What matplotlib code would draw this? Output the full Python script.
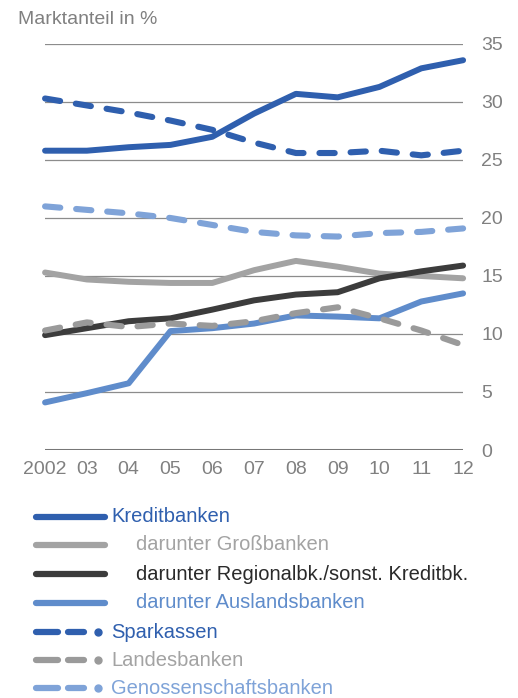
import matplotlib.pyplot as plt

plt.rcParams['font.family'] = ['Liberation Sans', 'DejaVu Sans']

# Daten
years = [2002, 2003, 2004, 2005, 2006, 2007, 2008, 2009, 2010, 2011, 2012]
year_labels = ['2002', '03', '04', '05', '06', '07', '08', '09', '10', '11', '12']
kreditbanken = [25.8, 25.8, 26.1, 26.3, 27.0, 29.0, 30.7, 30.4, 31.3, 32.9, 33.6]
grossbanken = [15.3, 14.7, 14.5, 14.4, 14.4, 15.5, 16.3, 15.8, 15.2, 15.0, 14.8]
regionalbanken = [9.9, 10.5, 11.1, 11.35, 12.1, 12.9, 13.4, 13.6, 14.8, 15.4, 15.9]
auslandsbanken = [4.1, 4.9, 5.75, 10.25, 10.5, 10.9, 11.6, 11.5, 11.35, 12.8, 13.5]
sparkassen = [30.3, 29.7, 29.1, 28.4, 27.6, 26.5, 25.6, 25.6, 25.8, 25.4, 25.8]
landesbanken = [10.3, 11.0, 10.6, 10.9, 10.7, 11.1, 11.8, 12.3, 11.35, 10.3, 9.05]
genossenschaft = [21.0, 20.7, 20.4, 20.0, 19.4, 18.8, 18.5, 18.4, 18.7, 18.8, 19.1]
y_ticks = [0, 5, 10, 15, 20, 25, 30, 35]

dunkelblau = '#2f5fae'
hellblau = '#5f8ccb'
genoblau = '#7fa3d8'
grau = '#a3a3a3'
dunkelgrau = '#3c3c3c'
textgrau = '#808080'

# (name, werte, farbe, gestrichelt, textfarbe, eingerückt)
serien = [
    ('Kreditbanken', kreditbanken, dunkelblau, False, dunkelblau, False),
    ('darunter Großbanken', grossbanken, grau, False, grau, True),
    ('darunter Regionalbk./sonst. Kreditbk.', regionalbanken, dunkelgrau, False, '#2a2a2a', True),
    ('darunter Auslandsbanken', auslandsbanken, hellblau, False, hellblau, True),
    ('Sparkassen', sparkassen, dunkelblau, True, dunkelblau, False),
    ('Landesbanken', landesbanken, '#9a9a9a', True, grau, False),
    ('Genossenschaftsbanken', genossenschaft, genoblau, True, genoblau, False),
]

fig = plt.figure(figsize=(5.18, 6.98), dpi=100)
ax = fig.add_axes((0.087, 0.3553, 0.807, 0.5817))

for y in y_ticks:
    if y == 0:
        ax.axhline(y, color='#777777', lw=2.2, zorder=1)
    else:
        ax.axhline(y, color='#8c8c8c', lw=0.9, zorder=1)

for name, werte, farbe, gestrichelt, _, _ in serien:
    if gestrichelt:
        ax.plot(years, werte, color=farbe, lw=4.4, dashes=(2.5, 2.6),
                dash_capstyle='round', clip_on=False, zorder=3)
    else:
        ax.plot(years, werte, color=farbe, lw=4.3, solid_capstyle='round',
                solid_joinstyle='round', clip_on=False, zorder=3)

ax.set_xlim(2002, 2012)
ax.set_ylim(0, 35)
ax.set_xticks(years)
ax.set_xticklabels(year_labels)
ax.set_yticks(y_ticks)
ax.yaxis.tick_right()
ax.tick_params(axis='y', length=0, pad=13, labelsize=14, labelcolor=textgrau)
ax.tick_params(axis='x', length=0, pad=8, labelsize=14, labelcolor=textgrau)
for s in ax.spines.values():
    s.set_visible(False)

fig.text(0.035, 0.972, 'Marktanteil in %', fontsize=14, color=textgrau, va='center', ha='left')

# Legende
leg = fig.add_axes((0, 0, 1, 1))
leg.set_xlim(0, 518)
leg.set_ylim(698, 0)
leg.axis('off')
zeilen = [517, 545, 574, 603, 632, 660, 688]
for (name, _, farbe, gestrichelt, textfarbe, eingerueckt), yy in zip(serien, zeilen):
    if gestrichelt:
        leg.plot([36, 58], [yy, yy], color=farbe, lw=4.5, solid_capstyle='round')
        leg.plot([68, 84], [yy, yy], color=farbe, lw=4.5, solid_capstyle='round')
        leg.plot([98], [yy], 'o', color=farbe, ms=5)
    else:
        leg.plot([36, 105], [yy, yy], color=farbe, lw=4.5, solid_capstyle='round')
    tx = 136 if eingerueckt else 111
    leg.text(tx, yy, name, fontsize=14.5, color=textfarbe, va='center', ha='left')

fig.savefig('out.png', dpi=100)
